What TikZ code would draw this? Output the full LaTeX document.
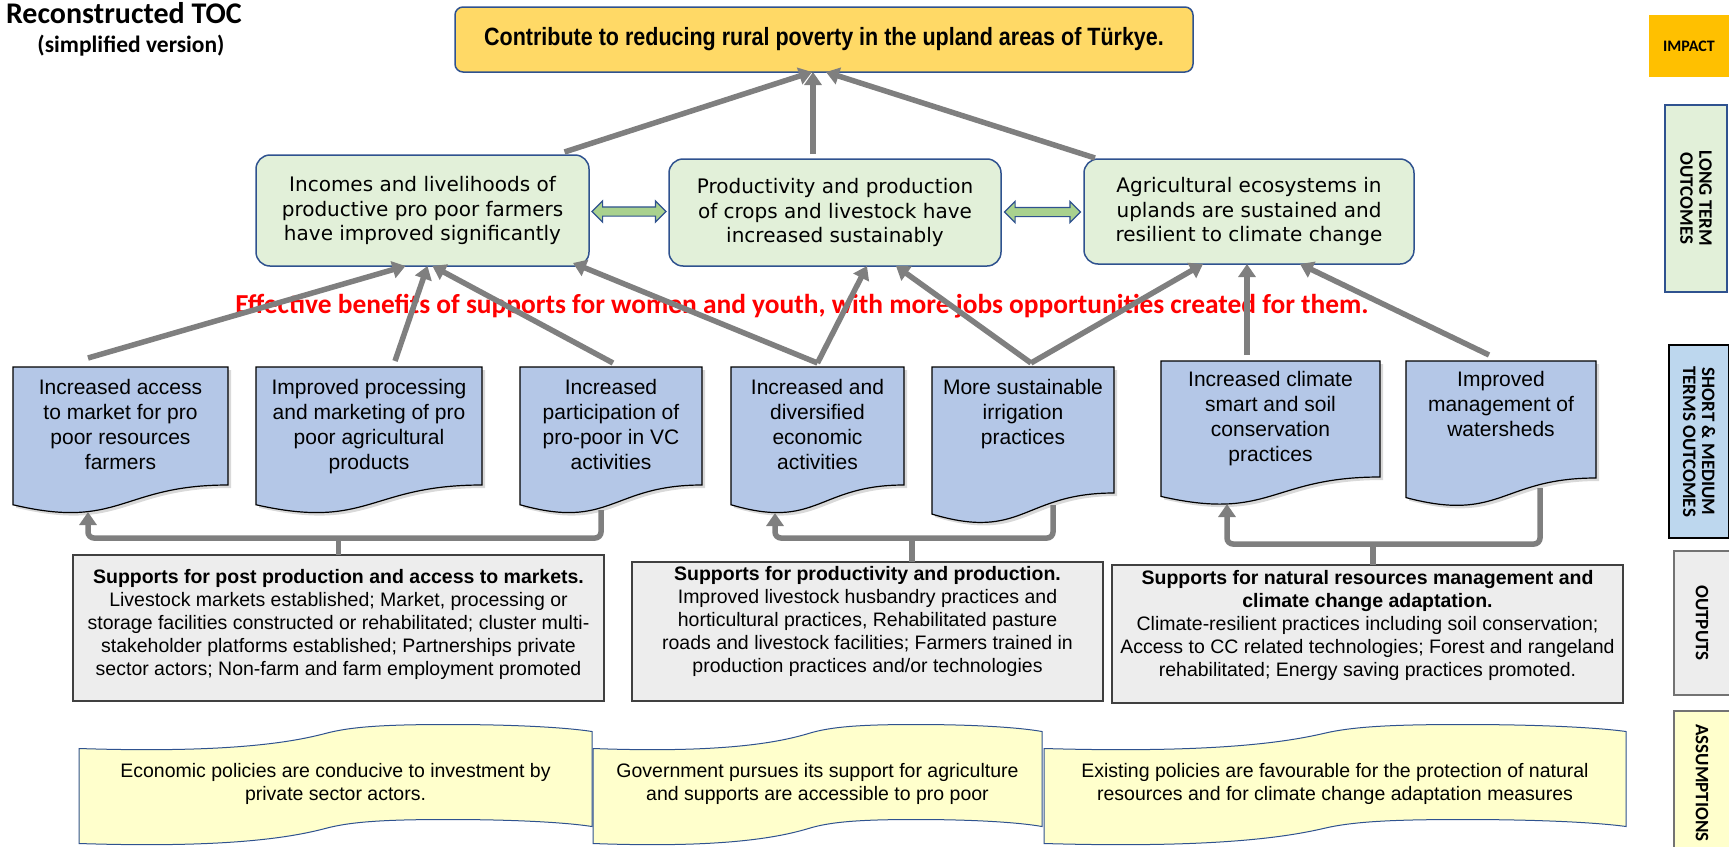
\documentclass[tikz,border=0pt]{standalone}
\usepackage{fontspec}
\setmainfont{Liberation Sans}
\newfontfamily\calfont{Carlito}
\newfontfamily\verdfont{DejaVu Sans}
\newfontfamily\narrowfont[FakeStretch=0.86]{Liberation Sans}
\usetikzlibrary{arrows.meta,calc,shapes.arrows,shadows,backgrounds}
\definecolor{impgold}{HTML}{FFD966}
\definecolor{impbar}{HTML}{FFC000}
\definecolor{ltgreen}{HTML}{E2F0D9}
\definecolor{boxblue}{HTML}{2F528F}
\definecolor{smblue}{HTML}{B4C7E7}
\definecolor{smbar}{HTML}{BDD7EE}
\definecolor{outgray}{HTML}{EDEDED}
\definecolor{asmyellow}{HTML}{FFFFCC}
\definecolor{arrgray}{HTML}{7F7F7F}
\definecolor{linkgreen}{HTML}{A9D18E}
\newcommand{\toptext}[4]{\parbox[c][#2][t]{#1}{\centering\vspace*{#3}#4}}
\newcommand{\docshape}[1]{\draw[docline] (#1.north west) -- (#1.north east) -- (#1.south east)
  .. controls (#1.south) and ($(#1.south)!-0.384!(#1.north)$) .. ($(#1.south west)!-0.1675!(#1.north west)$) -- cycle;}
\newcommand{\wavebox}[2]{\draw[asmline] ($(#1.north west)+(0,24)$)
  .. controls ($(#1.north west)+(0.3*#2,29)$) and ($(#1.north west)+(0.42*#2,17)$) .. ($(#1.north west)+(0.48*#2,9)$)
  .. controls ($(#1.north west)+(0.53*#2,2)$) and ($(#1.north west)+(0.6*#2,0)$) .. ($(#1.north west)+(0.72*#2,0)$)
  .. controls ($(#1.north west)+(0.85*#2,0)$) and ($(#1.north west)+(0.95*#2,3)$) .. ($(#1.north west)+(#2,7)$)
  -- ($(#1.north west)+(#2,102)$)
  .. controls ($(#1.north west)+(0.95*#2,98)$) and ($(#1.north west)+(0.85*#2,95)$) .. ($(#1.north west)+(0.72*#2,95)$)
  .. controls ($(#1.north west)+(0.6*#2,95)$) and ($(#1.north west)+(0.53*#2,97)$) .. ($(#1.north west)+(0.48*#2,104)$)
  .. controls ($(#1.north west)+(0.42*#2,112)$) and ($(#1.north west)+(0.3*#2,124)$) .. ($(#1.north west)+(0,119)$) -- cycle;}
\begin{document}
\begin{tikzpicture}[x=1pt,y=-1pt,inner sep=0pt,outer sep=0pt,>={Triangle[width=17pt,length=13pt]},
impactbox/.style={draw=boxblue,fill=impgold,line width=1.5pt,rounded corners=8pt,minimum width=738pt,minimum height=65pt,font=\narrowfont\bfseries\fontsize{25}{28}\selectfont},
ltbox/.style={draw=boxblue,fill=ltgreen,line width=1.5pt,rounded corners=14pt,align=center,font=\verdfont\fontsize{20}{24.5}\selectfont},
smbox/.style={font=\fontsize{21}{25}\selectfont},
docline/.style={draw=black,fill=smblue,line width=1.2pt,drop shadow={shadow xshift=3pt,shadow yshift=-3pt,opacity=0.3}},
outbox/.style={draw=black!75,fill=outgray,line width=1.5pt,font=\fontsize{19.5}{23}\selectfont},
asmbox/.style={minimum height=119pt,align=center,font=\fontsize{19.5}{22.5}\selectfont},
asmline/.style={draw=boxblue,fill=asmyellow,line width=1pt},
flow/.style={->,draw=arrgray,line width=5.5pt},
bracket/.style={draw=arrgray,line width=5.5pt,rounded corners=6pt},
linkarrow/.style={double arrow,draw=boxblue,fill=linkgreen,line width=1.2pt,inner sep=4pt,double arrow head extend=6pt},
tierbox/.style={line width=1.5pt,align=center,font=\calfont\bfseries\fontsize{19}{19}\selectfont}]
\useasboundingbox (0,0) rectangle (1729,846);

\draw (6,23) node[anchor=base west,font=\calfont\bfseries\fontsize{30}{32}\selectfont] (title) {Reconstructed TOC};
\draw (131,52) node[anchor=base,font=\calfont\bfseries\fontsize{23.5}{26}\selectfont] (subtitle) {(simplified version)};

\draw (824,39.5) node[impactbox] (IMP) {Contribute to reducing rural poverty in the upland areas of Türkye.};

\draw (422.5,210.5) node[ltbox,minimum width=333pt,minimum height=111pt] (LT1) {Incomes and livelihoods of\\productive pro poor farmers\\have improved significantly};
\draw (835,212.5) node[ltbox,minimum width=332pt,minimum height=107pt] (LT2) {Productivity and production\\of crops and livestock have\\increased sustainably};
\draw (1249,211.5) node[ltbox,minimum width=330pt,minimum height=105pt] (LT3) {Agricultural ecosystems in\\uplands are sustained and\\resilient to climate change};
\path (LT1) -- (LT2) node[midway,linkarrow,minimum height=74pt] (L12) {};
\path (LT2) -- (LT3) node[midway,linkarrow,minimum height=76pt] (L23) {};

\draw (802,306) node[font=\calfont\bfseries\fontsize{27.4}{30}\selectfont,text=red] (women) {Effective benefits of supports for women and youth, with more jobs opportunities created for them.};

\draw (120.5,426) node[smbox] (S1) {\toptext{215pt}{118pt}{12pt}{Increased access\\to market for pro\\poor resources\\farmers}};
\draw (369,426) node[smbox] (S2) {\toptext{226pt}{118pt}{12pt}{Improved processing\\and marketing of pro\\poor agricultural\\products}};
\draw (611,426) node[smbox] (S3) {\toptext{182pt}{118pt}{12pt}{Increased\\participation of\\pro-poor in VC\\activities}};
\draw (817.5,426) node[smbox] (S4) {\toptext{173pt}{118pt}{12pt}{Increased and\\diversified\\economic\\activities}};
\draw (1023,430) node[smbox] (S5) {\toptext{182pt}{126pt}{12pt}{More sustainable\\irrigation\\practices}};
\draw (1270.5,419) node[smbox] (S6) {\toptext{219pt}{116pt}{10pt}{Increased climate\\smart and soil\\conservation\\practices}};
\draw (1501,419.5) node[smbox] (S7) {\toptext{190pt}{117pt}{10pt}{Improved\\management of\\watersheds}};

\draw (338.5,628) node[outbox] (O1) {\toptext{531pt}{146pt}{14pt}{\textbf{Supports for post production and access to markets.}\\Livestock markets established; Market, processing or\\storage facilities constructed or rehabilitated; cluster multi-\\stakeholder platforms established; Partnerships private\\sector actors; Non-farm and farm employment promoted}};
\draw (867.5,631.5) node[outbox] (O2) {\toptext{471pt}{139pt}{4pt}{\textbf{Supports for productivity and production.}\\Improved livestock husbandry practices and\\horticultural practices, Rehabilitated pasture\\roads and livestock facilities; Farmers trained in\\production practices and/or technologies}};
\draw (1367.5,634) node[outbox] (O3) {\toptext{511pt}{138pt}{5pt}{\textbf{Supports for natural resources management and}\\\textbf{climate change adaptation.}\\Climate-resilient practices including soil conservation;\\Access to CC related technologies; Forest and rangeland\\rehabilitated; Energy saving practices promoted.}};

\draw (335.5,784) node[asmbox,minimum width=513pt] (A1) {Economic policies are conducive to investment by\\private sector actors.};
\draw (817.5,784) node[asmbox,minimum width=449pt] (A2) {Government pursues its support for agriculture\\and supports are accessible to pro poor};
\draw (1335,784) node[asmbox,minimum width=582pt] (A3) {Existing policies are favourable for the protection of natural\\resources and for climate change adaptation measures};

\begin{scope}[on background layer]
\foreach \s in {S1,S2,S3,S4,S5,S6,S7} {\docshape{\s}}
\wavebox{A1}{513}
\wavebox{A2}{449}
\wavebox{A3}{582}
\end{scope}

\draw (1689,46) node[tierbox,fill=impbar,minimum width=80pt,minimum height=62pt,font=\calfont\bfseries\fontsize{16}{17}\selectfont] (tImpact) {IMPACT};
\draw (1696,198.5) node[tierbox,draw=boxblue,fill=ltgreen,rotate=-90,minimum width=187pt,minimum height=62pt] (tLong) {LONG TERM\\OUTCOMES};
\draw (1699,441.5) node[tierbox,draw=black,line width=2.5pt,fill=smbar,rotate=-90,minimum width=193pt,minimum height=60pt] (tShort) {SHORT \& MEDIUM\\TERMS OUTCOMES};
\draw (1702,623) node[tierbox,draw=black!55,fill=outgray,rotate=-90,minimum width=144pt,minimum height=56pt] (tOut) {OUTPUTS};
\draw (1702,783) node[tierbox,draw=black!55,fill=asmyellow,rotate=-90,minimum width=144pt,minimum height=56pt] (tAsm) {ASSUMPTIONS};

\draw[flow] ([xshift=142pt,yshift=3pt]LT1.north) -- ([xshift=-12pt]IMP.south);
\draw[flow] ([xshift=-22pt,yshift=5pt]LT2.north) -- ([xshift=-11pt]IMP.south);
\draw[flow] ([xshift=-154pt,yshift=1pt]LT3.north) -- ([xshift=2pt]IMP.south);

\draw[flow] ([xshift=-32.5pt,yshift=9pt]S1.north) -- ([xshift=-17pt]LT1.south);
\draw[flow] ([xshift=26pt,yshift=6pt]S2.north) -- ([xshift=5pt]LT1.south);
\draw[flow] ([xshift=2pt,yshift=4pt]S3.north) -- ([xshift=10pt]LT1.south);
\draw[flow] ([yshift=4pt]S4.north) -- ([xshift=-16pt,yshift=3pt]LT1.south east);
\draw[flow] ([yshift=4pt]S4.north) -- ([xshift=32pt]LT2.south);
\draw[flow] ([xshift=8pt,yshift=4pt]S5.north) -- ([xshift=61pt]LT2.south);
\draw[flow] ([xshift=8pt,yshift=4pt]S5.north) -- ([xshift=-46pt]LT3.south);
\draw[flow] ([xshift=-23.5pt,yshift=6pt]S6.north) -- ([xshift=-2pt]LT3.south);
\draw[flow] ([xshift=-12pt,yshift=6pt]S7.north) -- ([xshift=51pt]LT3.south);

\coordinate (j1) at ([yshift=17pt]O1.north);
\coordinate (j2) at ([xshift=44.5pt,yshift=24pt]O2.north);
\coordinate (j3) at ([xshift=5.5pt,yshift=21pt]O3.north);
\draw[bracket] (O1.north) -- (j1);
\draw[bracket] ([xshift=44.5pt]O2.north) -- (j2);
\draw[bracket] ([xshift=5.5pt]O3.north) -- (j3);
\draw[bracket,->] ([xshift=-10pt,yshift=-25pt]S3.south) |- (j1) -| ([xshift=-32.5pt,yshift=-27pt]S1.south);
\draw[bracket,->] ([xshift=30pt,yshift=-12pt]S5.south) |- (j2) -| ([xshift=-42.5pt,yshift=-28pt]S4.south);
\draw[bracket,->] ([xshift=39pt,yshift=-10pt]S7.south) |- (j3) -| ([xshift=-43.5pt,yshift=-27pt]S6.south);
\end{tikzpicture}
\end{document}
